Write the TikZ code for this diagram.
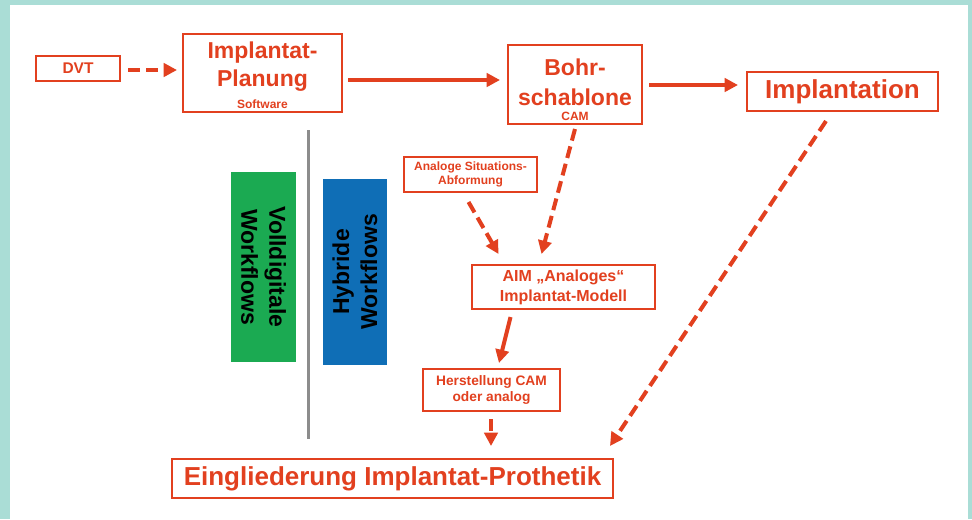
\documentclass[tikz,border=0pt]{standalone}
\usepackage{fontspec}
\setmainfont{Liberation Sans}
\usetikzlibrary{arrows.meta,calc}
\definecolor{rd}{HTML}{E2401F}
\definecolor{tealbg}{HTML}{AADDD6}
\definecolor{grn}{HTML}{1BAA52}
\definecolor{blu}{HTML}{0F6EB6}
\definecolor{gry}{HTML}{8C8C8C}
\tikzset{
  box/.style={draw=rd, line width=1.5pt, text=rd, align=center, inner sep=0pt},
  arr/.style={draw=rd, line width=3pt, -{Triangle[length=10pt,width=10pt]}},
  darr/.style={arr, dash pattern=on 9pt off 4.5pt},
  wfbox/.style={inner sep=0pt},
  wftext/.style={align=center, text=black, font=\bfseries\fontsize{17.25}{21}\selectfont}
}
\begin{document}
\begin{tikzpicture}[x=0.75pt,y=-0.75pt]
\useasboundingbox (0,0) rectangle (972,519);
\fill[tealbg] (0,0) rectangle (972,519);
\fill[white] (10,5) rectangle (968,519);

% boxes
\node[box, minimum width=84*0.75pt, minimum height=25*0.75pt, font=\bfseries\fontsize{11.6}{13}\selectfont] (dvt) at (78,68) {DVT};
\node[box, minimum width=159*0.75pt, minimum height=78*0.75pt, font=\bfseries\fontsize{17.25}{21}\selectfont] (plan) at (262.5,73) {\rule{0pt}{16pt}Implantat-\\Planung\\[-4.5pt]{\fontsize{9}{10}\selectfont Software}};
\node[box, minimum width=134*0.75pt, minimum height=79*0.75pt, font=\bfseries\fontsize{17.25}{22.5}\selectfont] (bohr) at (575,84.5) {\rule{0pt}{20pt}Bohr-\\schablone\\[-11pt]{\fontsize{9}{10}\selectfont CAM}};
\node[box, minimum width=191*0.75pt, minimum height=39*0.75pt, font=\bfseries\fontsize{19.5}{23}\selectfont] (impl) at (842.5,91.5) {Implantation};
\node[box, minimum width=133*0.75pt, minimum height=35*0.75pt, font=\bfseries\fontsize{9}{10.5}\selectfont] (abf) at (470.5,174.5) {Analoge Situations-\\Abformung};
\node[box, minimum width=183*0.75pt, minimum height=44*0.75pt, font=\bfseries\fontsize{12}{15}\selectfont] (aim) at (563.5,287) {AIM „Analoges“\\Implantat-Modell};
\node[box, minimum width=137*0.75pt, minimum height=42*0.75pt, font=\bfseries\fontsize{10.3}{12}\selectfont] (herst) at (491.5,390) {Herstellung CAM\\oder analog};
\node[box, minimum width=441*0.75pt, minimum height=39*0.75pt, font=\bfseries\fontsize{19.5}{23}\selectfont] (eing) at (392.5,478.5) {Eingliederung Implantat-Prothetik};

% workflow bars
\node[wfbox, fill=grn, minimum width=65*0.75pt, minimum height=190*0.75pt] (green) at (263.5,267) {};
\node[wftext, rotate=-90] (greentxt) at (green.center) {Volldigitale\\Workflows};
\node[wfbox, fill=blu, minimum width=64*0.75pt, minimum height=186*0.75pt] (blue) at (355,272) {};
\node[wftext, rotate=90] (bluetxt) at (blue.center) {Hybride\\Workflows};

% separator
\coordinate (sepT) at (308,130);
\coordinate (sepB) at (308,439);
\draw[gry, line width=2.25pt] (sepT) -- (sepB);

% connectors
\draw[darr] ($(dvt.east)+(7,2)$) -- ($(plan.west)+(-5,-3)$);
\draw[arr] ($(plan.east)+(5,7)$) -- ($(bohr.west)+(-7,-4.5)$);
\draw[arr] ($(bohr.east)+(6,0.5)$) -- ($(impl.west)+(-8,-6.5)$);
\draw[darr] ($(bohr.south)+(0,4)$) -- ($(aim.north)+(-22,-10)$);
\draw[darr] ($(abf.south)+(-2,9)$) -- ($(aim.north)+(-65,-10)$);
\draw[arr] ($(aim.south)+(-53,7)$) -- ($(herst.north)+(7.5,-5)$);
\draw[darr] ($(herst.south)+(-0.5,7)$) -- ($(eing.north)+(98.5,-12)$);
\draw[darr] ($(impl.south)+(-16.5,9)$) -- ($(eing.north east)+(-4,-12)$);
\end{tikzpicture}
\end{document}
